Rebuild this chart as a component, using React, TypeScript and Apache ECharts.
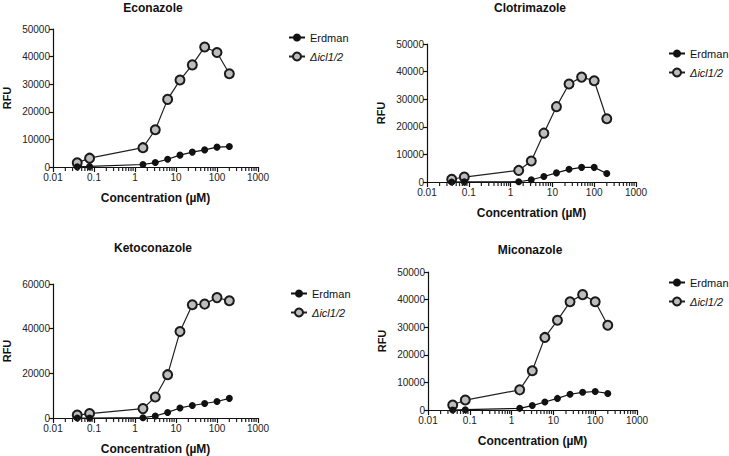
import React, { useEffect, useRef } from "react";
import * as echarts from "echarts";

// Concentrations (µM), 2-fold dilutions
const concentrations = [0.039, 0.078, 1.5625, 3.125, 6.25, 12.5, 25, 50, 100, 200];

const econazoleErdman = [50, 200, 900, 1600, 2800, 4300, 5400, 6200, 7200, 7400];
const econazoleIcl = [1500, 3200, 7000, 13500, 24500, 31500, 37000, 43500, 41500, 33800];

const clotrimazoleErdman = [0, 50, 100, 800, 2000, 3300, 4600, 5300, 5300, 3100];
const clotrimazoleIcl = [1000, 1800, 4200, 7600, 17700, 27300, 35500, 38000, 36700, 22900];

const ketoconazoleErdman = [0, 0, 150, 900, 2500, 4500, 5600, 6500, 7400, 8800];
const ketoconazoleIcl = [1300, 2000, 4200, 9400, 19400, 38700, 50700, 51000, 53900, 52500];

const miconazoleErdman = [0, 100, 600, 1600, 2900, 4200, 5700, 6400, 6700, 6000];
const miconazoleIcl = [1800, 3600, 7300, 14200, 26300, 32500, 39200, 41800, 39200, 30700];

const panelTitles = ["Econazole", "Clotrimazole", "Ketoconazole", "Miconazole"];
const seriesNames = ["Erdman", "Δicl1/2"];
const xTickLabels = ["0.01", "0.1", "1", "10", "100", "1000"];
const yMaxes = [50000, 50000, 60000, 50000];
const yIntervals = [10000, 10000, 20000, 10000];

// minor tick positions on the log axis (2..9 per decade)
const minorTickValues: number[] = [];
[0.01, 0.1, 1, 10, 100].forEach((d) => {
  for (let k = 2; k <= 9; k++) minorTickValues.push(+(k * d).toPrecision(3));
});

const FONT = "'Liberation Sans', Arial, sans-serif";

const grids = [
  { left: 48, top: 29, width: 210, height: 138 },
  { left: 427, top: 44, width: 209, height: 138 },
  { left: 48, top: 284, width: 210, height: 138 },
  { left: 428, top: 272, width: 209, height: 138 },
];
// legend has 5px padding
const legendPos = [
  { left: 283, top: 27 },
  { left: 663, top: 43 },
  { left: 285, top: 283 },
  { left: 663, top: 272 },
];
const titlePos = [
  { x: 153, y: 8 },
  { x: 530, y: 8 },
  { x: 153, y: 248 },
  { x: 530, y: 250 },
];

const panelData = [
  [econazoleErdman, econazoleIcl],
  [clotrimazoleErdman, clotrimazoleIcl],
  [ketoconazoleErdman, ketoconazoleIcl],
  [miconazoleErdman, miconazoleIcl],
];

export default function App() {
  const ref = useRef<HTMLDivElement>(null);
  useEffect(() => {
    if (!ref.current) return;
    const chart = echarts.init(ref.current, null, { renderer: "svg" });

    const xAxis = grids.map((_, i) => ({
      type: "log",
      logBase: 10,
      gridIndex: i,
      min: 0.01,
      max: 1000,
      name: "Concentration (µM)",
      nameLocation: "middle",
      nameGap: 25,
      nameTextStyle: { fontFamily: FONT, fontWeight: "bold", fontSize: 12, color: "#111" },
      axisLine: { show: true, lineStyle: { color: "#111", width: 1.2 } },
      axisTick: { show: true, length: 5, lineStyle: { color: "#111", width: 1.2 } },
      axisLabel: {
        fontFamily: FONT,
        fontSize: 10,
        color: "#222",
        margin: 5,
        formatter: (v: number) => {
          const idx = Math.round(Math.log10(v)) + 2;
          return xTickLabels[idx] ?? String(v);
        },
      },
      splitLine: { show: false },
      minorTick: { show: false },
    }));

    const yAxis = grids.map((_, i) => ({
      type: "value",
      gridIndex: i,
      min: 0,
      max: yMaxes[i],
      interval: yIntervals[i],
      name: "RFU",
      nameLocation: "middle",
      nameRotate: 90,
      nameGap: 41,
      nameTextStyle: { fontFamily: FONT, fontWeight: "bold", fontSize: 11, color: "#111" },
      axisLine: { show: true, lineStyle: { color: "#111", width: 1.2 } },
      axisTick: { show: true, length: 4, lineStyle: { color: "#111", width: 1.2 } },
      axisLabel: {
        fontFamily: FONT,
        fontSize: 10,
        color: "#222",
        margin: 3,
        formatter: (v: number) => String(v),
      },
      splitLine: { show: false },
    }));

    const series: any[] = [];
    panelData.forEach((pair, i) => {
      series.push({
        type: "scatter",
        name: "minor",
        xAxisIndex: i,
        yAxisIndex: i,
        silent: true,
        clip: false,
        data: minorTickValues.map((v) => [v, 0]),
        symbol: "rect",
        symbolSize: [1.2, 3.5],
        symbolOffset: [0, 2.3],
        itemStyle: { color: "#222", opacity: 1 },
        z: 10,
      });
      series.push({
        type: "line",
        name: seriesNames[0],
        xAxisIndex: i,
        yAxisIndex: i,
        data: concentrations.map((c, k) => [c, pair[0][k]]),
        symbol: "circle",
        symbolSize: 7,
        lineStyle: { color: "#111", width: 1.2 },
        itemStyle: { color: "#111", borderColor: "#111", borderWidth: 0 },
        z: 3,
      });
      series.push({
        type: "line",
        name: seriesNames[1],
        xAxisIndex: i,
        yAxisIndex: i,
        data: concentrations.map((c, k) => [c, pair[1][k]]),
        symbol: "circle",
        symbolSize: 9,
        lineStyle: { color: "#222", width: 1.2 },
        itemStyle: { color: "#bdbdbd", borderColor: "#1a1a1a", borderWidth: 2 },
        z: 2,
      });
    });

    const legend = legendPos.map((p) => ({
      data: seriesNames,
      orient: "vertical",
      left: p.left,
      top: p.top,
      itemWidth: 16,
      itemHeight: 10,
      itemGap: 8,
      selectedMode: false,
      textStyle: {
        fontFamily: FONT,
        fontSize: 11,
        color: "#111",
        rich: { i: { fontFamily: FONT, fontSize: 11, fontStyle: "italic", color: "#111" } },
      },
      formatter: (name: string) => (name === seriesNames[1] ? "{i|" + name + "}" : name),
    }));

    const graphic = titlePos.map((p, i) => ({
      type: "text",
      x: p.x,
      y: p.y,
      style: {
        text: panelTitles[i],
        align: "center",
        verticalAlign: "middle",
        font: `bold 12px ${FONT}`,
        fill: "#111",
      },
    }));

    chart.setOption({
      animation: false,
      backgroundColor: "#fff",
      grid: grids.map((g) => ({ ...g, containLabel: false })),
      xAxis,
      yAxis,
      series,
      legend,
      graphic,
    });
    return () => chart.dispose();
  }, []);

  return <div ref={ref} style={{ width: 729, height: 456, position: "absolute", left: 0, top: 0 }} />;
}
